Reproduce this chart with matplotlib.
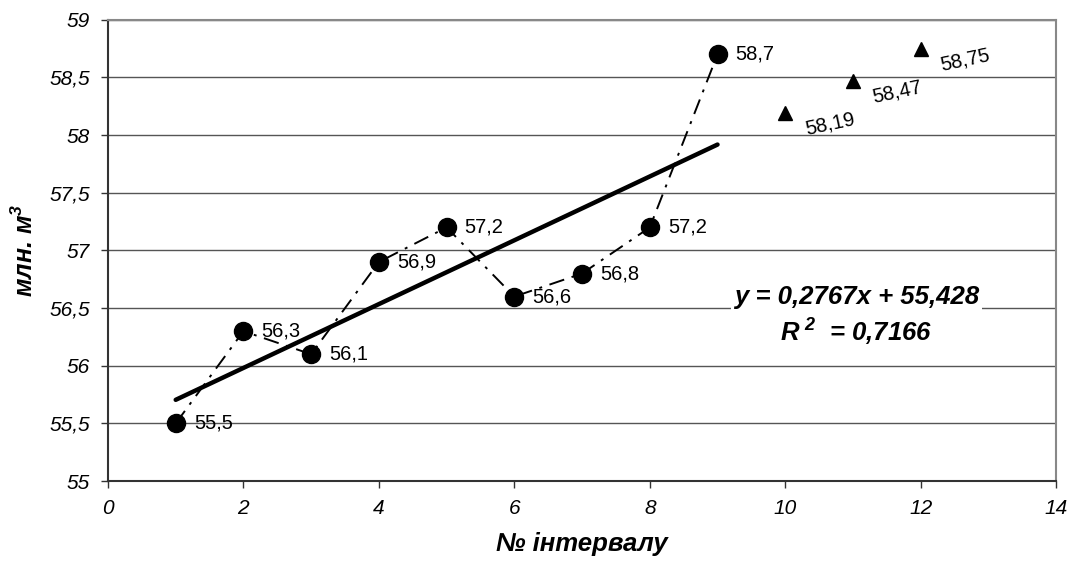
import matplotlib
matplotlib.use("Agg")
import matplotlib.pyplot as plt
import numpy as np

plt.rcParams['font.family'] = ['Liberation Sans', 'DejaVu Sans']
plt.rcParams['mathtext.fontset'] = 'custom'
plt.rcParams['mathtext.rm'] = 'Liberation Sans:bold:italic'
plt.rcParams['mathtext.it'] = 'Liberation Sans:bold:italic'
plt.rcParams['mathtext.bf'] = 'Liberation Sans:bold:italic'

x_obs = [1, 2, 3, 4, 5, 6, 7, 8, 9]
y_obs = [55.5, 56.3, 56.1, 56.9, 57.2, 56.6, 56.8, 57.2, 58.7]
obs_labels = ["55,5", "56,3", "56,1", "56,9", "57,2", "56,6", "56,8", "57,2", "58,7"]
x_fc = [10, 11, 12]
y_fc = [58.19, 58.47, 58.75]
fc_labels = ["58,19", "58,47", "58,75"]
slope, intercept = 0.2767, 55.428
x_ticks = [0, 2, 4, 6, 8, 10, 12, 14]
y_ticks = [55, 55.5, 56, 56.5, 57, 57.5, 58, 58.5, 59]

fig = plt.figure(figsize=(10.69, 5.66), dpi=100)
ax = fig.add_axes([0.101, 0.150, 0.887, 0.815])
ax.set_xlim(0, 14)
ax.set_ylim(55, 59)

for yv in y_ticks:
    ax.axhline(yv, color='#555555', lw=1.0, zorder=0)

ax.plot(x_obs, y_obs, color='black', lw=1.4, linestyle=(0, (8, 4, 1.5, 4)), zorder=2)
ax.plot(x_obs, y_obs, 'o', color='black', markersize=13, zorder=4, linestyle='none')
xt = np.array([x_obs[0], x_obs[-1]])
ax.plot(xt, slope * xt + intercept, color='black', lw=3.2, solid_capstyle='round', zorder=3)
ax.plot(x_fc, y_fc, '^', color='black', markersize=10, zorder=4, linestyle='none')

for xv, yv, lab in zip(x_obs, y_obs, obs_labels):
    ax.annotate(lab, (xv, yv), xytext=(13, 0), textcoords='offset points',
                va='center', ha='left', fontsize=14.5, zorder=5)
for xv, yv, lab in zip(x_fc, y_fc, fc_labels):
    ax.annotate(lab, (xv, yv), xytext=(13, -8), textcoords='offset points',
                va='center', ha='left', fontsize=14.5, rotation=12, zorder=5)

ax.text(11.05, 56.43, "y = 0,2767x + 55,428\nR$^{\\ 2}$  = 0,7166", ha='center', va='center',
        fontsize=18.5, fontweight='bold', fontstyle='italic', linespacing=1.3,
        bbox=dict(facecolor='white', edgecolor='none', pad=2), zorder=6)

ax.set_xticks(x_ticks)
ax.set_xticklabels([str(t) for t in x_ticks], fontstyle='italic', fontsize=15)
ax.set_yticks(y_ticks)
ax.set_yticklabels([("%g" % t).replace('.', ',') for t in y_ticks], fontstyle='italic', fontsize=15)
ax.tick_params(direction='out', length=5, width=1, color='#333333', pad=8)

for s in ['left', 'bottom']:
    ax.spines[s].set_color('#333333')
    ax.spines[s].set_linewidth(1.5)
for s in ['right', 'top']:
    ax.spines[s].set_color('#888888')
    ax.spines[s].set_linewidth(1.5)

ax.set_xlabel("№ інтервалу", fontsize=18.5, fontweight='bold', fontstyle='italic', labelpad=10)
ax.set_ylabel("млн. м$^3$", fontsize=18, fontweight='bold', fontstyle='italic', labelpad=8)

fig.savefig("out.png", dpi=100)
